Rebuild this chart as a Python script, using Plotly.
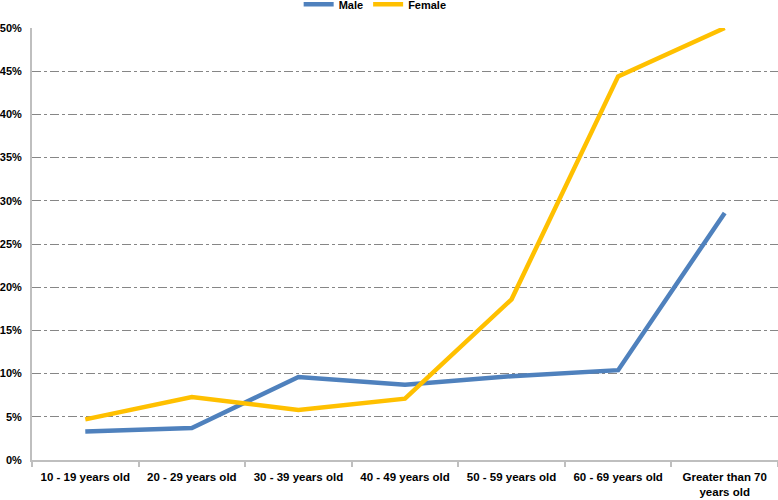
import plotly.graph_objects as go

categories = ["10 - 19 years old", "20 - 29 years old", "30 - 39 years old",
              "40 - 49 years old", "50 - 59 years old", "60 - 69 years old",
              "Greater than 70<br>years old"]
male = [0.033, 0.037, 0.096, 0.087, 0.097, 0.104, 0.286]
female = [0.047, 0.073, 0.058, 0.071, 0.186, 0.444, 0.500]
y_ticks = [0, 0.05, 0.10, 0.15, 0.20, 0.25, 0.30, 0.35, 0.40, 0.45, 0.50]
y_labels = ["0%", "5%", "10%", "15%", "20%", "25%", "30%", "35%", "40%", "45%", "50%"]

font_family = "Liberation Sans, Arial, sans-serif"

fig = go.Figure()
fig.add_trace(go.Scatter(x=categories, y=male, mode="lines", name="<b>Male</b>",
                         line=dict(color="#4F81BD", width=4.5)))
fig.add_trace(go.Scatter(x=categories, y=female, mode="lines", name="<b>Female</b>",
                         line=dict(color="#FFC000", width=4.5)))

fig.update_layout(
    width=778, height=500,
    margin=dict(l=32, r=0, t=28, b=40, autoexpand=False),
    paper_bgcolor="white", plot_bgcolor="white",
    font=dict(family=font_family, size=11, color="black"),
    showlegend=True,
    legend=dict(orientation="h", x=0.46, xanchor="center", y=1.055, yanchor="middle",
                font=dict(size=11, family=font_family), itemwidth=30,
                bgcolor="rgba(0,0,0,0)"),
    xaxis=dict(type="category", showgrid=False, showline=True, linecolor="#BFBFBF",
               linewidth=2, ticks="outside", tickson="boundaries", ticklen=5,
               tickcolor="#BFBFBF", tickwidth=1.5, range=[-0.5, 6.5],
               ticklabelstandoff=5,
               tickfont=dict(size=11.5, family=font_family), fixedrange=True,
               ticktext=["<b>" + c + "</b>" for c in categories], tickvals=categories),
    yaxis=dict(range=[0, 0.5], tickvals=y_ticks,
               ticktext=["<b>" + t + "</b>" for t in y_labels],
               showgrid=True, gridcolor="#868686", griddash="dashdot", gridwidth=1,
               showline=True, linecolor="#BFBFBF", linewidth=2, zeroline=False,
               ticks="", ticklen=0, ticklabelstandoff=6,
               tickfont=dict(size=11, family=font_family)),
)

fig.write_html("out.html", config={"displayModeBar": False},
               post_script="document.body.style.margin='0';")
